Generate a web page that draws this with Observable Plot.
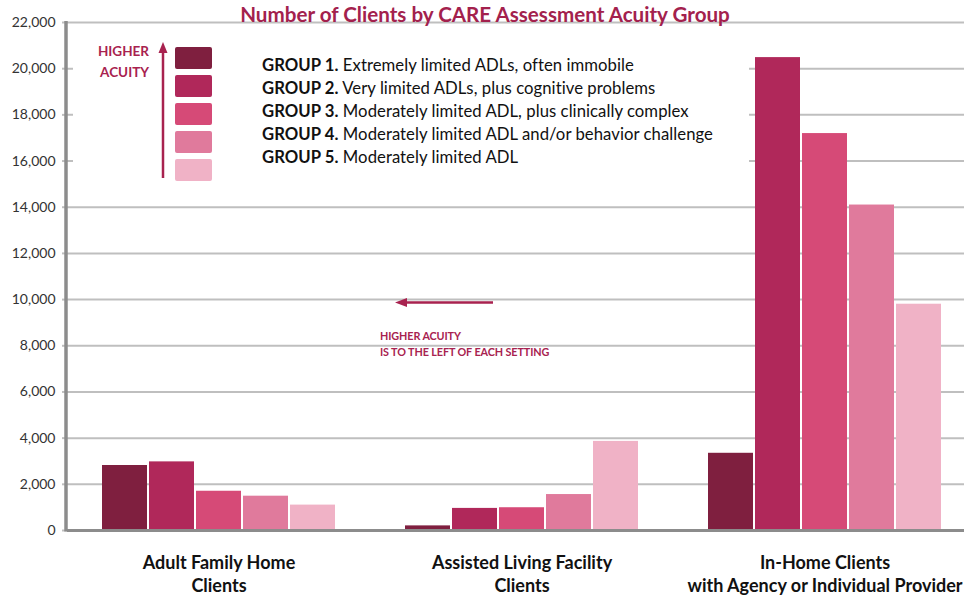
<!DOCTYPE html>
<html>
<head>
<meta charset="utf-8">
<script src="https://cdn.jsdelivr.net/npm/d3@7"></script>
<script src="https://cdn.jsdelivr.net/npm/@observablehq/plot@0.6"></script>
<style>
  body { margin: 0; background: #fff; }
  #wrap { position: relative; width: 964px; height: 597px; overflow: hidden; background: #fff; font-family: Lato, "Open Sans", sans-serif; }
  #wrap svg.plot { position: absolute; left: 0; top: 0; }
  #title { position: absolute; top: 2px; left: 0; width: 970px; text-align: center; font-size: 20.6px; font-weight: bold; color: #A3214D; white-space: nowrap; }
  #legend { position: absolute; left: 73px; top: 30px; width: 676px; height: 156px; background: #fff; }
  .sw { position: absolute; left: 102px; width: 37px; height: 22px; border-radius: 2px; }
  .lt { position: absolute; left: 189px; font-size: 16.7px; color: #111; white-space: nowrap; line-height: 20px; letter-spacing: 0.05px; }
  .lt b { font-weight: bold; }
  .acuity { position: absolute; color: #A8224F; font-weight: bold; white-space: nowrap; }
</style>
</head>
<body>
<div id="wrap">
  <div id="title">Number of Clients by CARE Assessment Acuity Group</div>
</div>
<script>
// ---- data ----
const settings = [
  "Adult Family Home\nClients",
  "Assisted Living Facility\nClients",
  "In-Home Clients\nwith Agency or Individual Provider"
];
const groups = ["GROUP 1", "GROUP 2", "GROUP 3", "GROUP 4", "GROUP 5"];
const groupDescriptions = [
  "Extremely limited ADLs, often immobile",
  "Very limited ADLs, plus cognitive problems",
  "Moderately limited ADL, plus clinically complex",
  "Moderately limited ADL and/or behavior challenge",
  "Moderately limited ADL"
];
const groupColors = ["#7F1F3F", "#B0285A", "#D64A77", "#E07A9C", "#F0B2C6"];
const adultFamilyHome = [2815, 2972, 1700, 1486, 1100];
const assistedLiving = [200, 957, 986, 1557, 3858];
const inHome = [3344, 20480, 17190, 14095, 9800];
const yTicks = [0, 2000, 4000, 6000, 8000, 10000, 12000, 14000, 16000, 18000, 20000, 22000];
const annotationLevel = 9850;

const seriesBySetting = [adultFamilyHome, assistedLiving, inHome];
const table = [];
settings.forEach((s, i) => groups.forEach((g, j) => table.push({setting: s, group: g, value: seriesBySetting[i][j]})));

const chart = Plot.plot({
  width: 977,
  height: 597,
  marginLeft: 66,
  marginRight: 0,
  marginTop: 22,
  marginBottom: 67,
  style: {fontFamily: "Lato, 'Open Sans', sans-serif", background: "transparent", maxWidth: "none", overflow: "visible"},
  fx: {domain: settings, padding: 0, label: null},
  x: {domain: groups, paddingInner: 0.035, paddingOuter: 0.72, axis: null},
  y: {domain: [0, 22000], axis: null},
  color: {domain: groups, range: groupColors},
  marks: [
    Plot.gridY(yTicks, {stroke: "#BFBFBF", strokeOpacity: 1, strokeWidth: 2}),
    Plot.barY(table, {fx: "setting", x: "group", y: "value", fill: "group"}),
    Plot.ruleY([0], {stroke: "#8C8C8C", strokeWidth: 3}),
    Plot.axisY(yTicks, {anchor: "left", tickSize: 5, tickPadding: 7, stroke: "#BFBFBF", strokeWidth: 2, fill: "#333", fontSize: 14, label: null, tickFormat: d => d3.format(",")(d)}),
    Plot.axisFx({anchor: "bottom", tickSize: 0, tickPadding: 22, fontSize: 18, fontWeight: "bold", fill: "#111", lineHeight: 1.28, label: null})
  ]
});

const wrap = document.getElementById("wrap");
wrap.insertBefore(chart, wrap.firstChild);

// left axis line through the y scale
const y = chart.scale("y");
const svg = d3.select(chart);
svg.append("line")
  .attr("x1", 66).attr("x2", 66)
  .attr("y1", y.apply(0) + 1.5).attr("y2", y.apply(22000) - 1)
  .attr("stroke", "#8C8C8C").attr("stroke-width", 3.5);

// legend (HTML overlay with white box)
const legend = document.createElement("div");
legend.id = "legend";
wrap.appendChild(legend);
const swTops = [17, 45, 73, 101, 129];
const textTops = [25, 48, 71, 94, 117];
groups.forEach((g, i) => {
  const sw = document.createElement("div");
  sw.className = "sw";
  sw.style.top = swTops[i] + "px";
  sw.style.background = groupColors[i];
  legend.appendChild(sw);
  const t = document.createElement("div");
  t.className = "lt";
  t.style.top = textTops[i] + "px";
  t.innerHTML = "<b>" + g + ".</b> " + groupDescriptions[i];
  legend.appendChild(t);
});
const h1 = document.createElement("div");
h1.className = "acuity";
h1.style.cssText = "left:22px;top:11px;font-size:13.5px;width:54px;text-align:right;line-height:21px;";
h1.innerHTML = "HIGHER<br>ACUITY";
legend.appendChild(h1);

// arrows overlay
const ov = d3.select(wrap).append("svg")
  .attr("width", 964).attr("height", 597)
  .style("position", "absolute").style("left", 0).style("top", 0).style("pointer-events", "none");
const red = "#A8224F";
// vertical arrow
ov.append("line").attr("x1", 163).attr("x2", 163).attr("y1", 178).attr("y2", 50).attr("stroke", red).attr("stroke-width", 2.5);
ov.append("path").attr("d", "M163,42 L167.5,53 L158.5,53 Z").attr("fill", red);
// horizontal arrow
const ay = y.apply(annotationLevel);
ov.append("line").attr("x1", 493).attr("x2", 404).attr("y1", ay).attr("y2", ay).attr("stroke", red).attr("stroke-width", 2.5);
ov.append("path").attr("d", `M395,${ay} L407,${ay - 4.5} L407,${ay + 4.5} Z`).attr("fill", red);

const note = document.createElement("div");
note.className = "acuity";
note.style.cssText = "left:380px;top:328px;font-size:10.8px;line-height:16px;letter-spacing:-0.1px;";
note.innerHTML = "HIGHER ACUITY<br>IS TO THE LEFT OF EACH SETTING";
wrap.appendChild(note);
</script>
</body>
</html>
